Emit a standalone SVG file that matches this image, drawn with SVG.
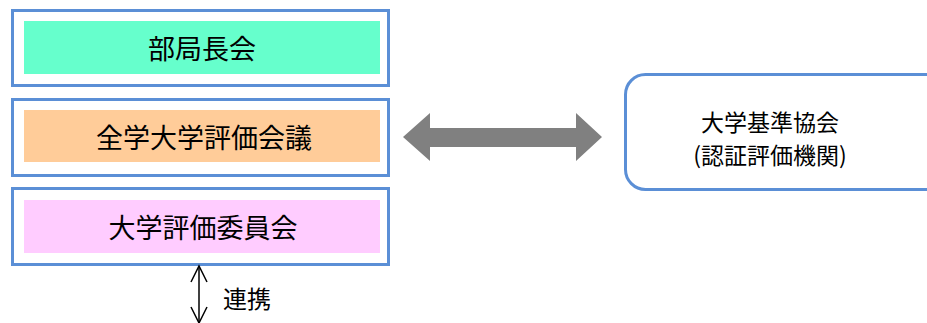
<svg xmlns="http://www.w3.org/2000/svg" width="927" height="323" viewBox="0 0 927 323">
<style>
.outer{fill:#fff;stroke:#5B8FD6;stroke-width:3}
.t{font-family:"Noto Sans CJK JP","Noto Sans CJK SC",sans-serif;fill:#000;text-anchor:middle;dominant-baseline:central}
.big{font-size:27px}
.mid{font-size:23px}
.sm{font-size:24px}
</style>
<defs>
<marker id="open" viewBox="0 0 20 20" refX="18" refY="10" markerWidth="20" markerHeight="20" markerUnits="userSpaceOnUse" orient="auto-start-reverse">
<path d="M2,2 L18,10 L2,18" fill="none" stroke="#000" stroke-width="1.5"/>
</marker>
</defs>
<g id="node-bukyokucho">
<rect class="outer" x="12.5" y="10.5" width="376" height="75"/>
<rect x="24" y="21" width="356" height="53" fill="#66FFCC"/>
<text class="t big" x="202" y="47">部局長会</text>
</g>
<g id="node-zengaku">
<rect class="outer" x="12.5" y="99.5" width="376" height="76"/>
<rect x="24" y="110" width="356" height="52" fill="#FFCC99"/>
<text class="t big" x="204" y="136">全学大学評価会議</text>
</g>
<g id="node-iinkai">
<rect class="outer" x="12.5" y="188.5" width="376" height="76"/>
<rect x="24" y="200" width="356" height="53" fill="#FFCCFF"/>
<text class="t big" x="203" y="226">大学評価委員会</text>
</g>
<g id="node-kijun">
<rect class="outer" x="625.5" y="74.5" width="340" height="115" rx="20" ry="20"/>
<text class="t mid" x="770" y="121">大学基準協会</text>
<text class="t mid" x="770" y="154">(認証評価機関)</text>
</g>
<g id="connectors">
<polygon points="403,137 430,113 430,128 576,128 576,113 602,137 576,161 576,147 430,147 430,161" fill="#808080"/>
<line x1="199" y1="266" x2="199" y2="323" stroke="#000" stroke-width="1.5" marker-start="url(#open)" marker-end="url(#open)"/>
<text class="t sm" x="247" y="297">連携</text>
</g>
</svg>
